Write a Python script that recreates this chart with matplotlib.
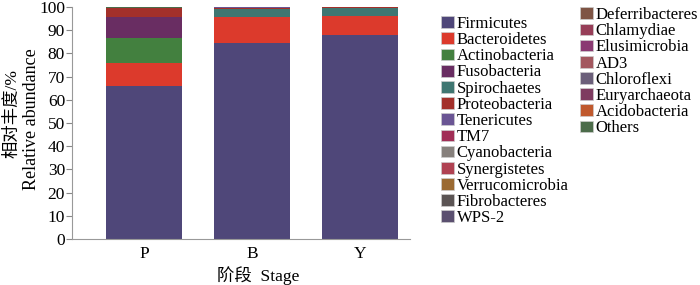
import matplotlib
matplotlib.use("Agg")
import matplotlib.pyplot as plt
import matplotlib.patches as mpatches
import numpy as np

stages = ["P", "B", "Y"]

phyla = ["Firmicutes", "Bacteroidetes", "Actinobacteria", "Fusobacteria",
         "Spirochaetes", "Proteobacteria", "Tenericutes", "TM7",
         "Cyanobacteria", "Synergistetes", "Verrucomicrobia", "Fibrobacteres",
         "WPS-2", "Deferribacteres", "Chlamydiae", "Elusimicrobia", "AD3",
         "Chloroflexi", "Euryarchaeota", "Acidobacteria", "Others"]

# relative abundance (%) per stage P, B, Y
firmicutes      = [66.0, 84.6, 87.8]
bacteroidetes   = [10.0, 11.0, 8.3]
actinobacteria  = [10.8, 0.1, 0.1]
fusobacteria    = [8.9, 0.1, 0.1]
spirochaetes    = [0.1, 3.4, 3.4]
proteobacteria  = [3.8, 0.3, 0.1]
tenericutes     = [0.1, 0.4, 0.1]
tm7             = [0.0, 0.0, 0.0]
cyanobacteria   = [0.0, 0.0, 0.0]
synergistetes   = [0.0, 0.0, 0.0]
verrucomicrobia = [0.0, 0.0, 0.0]
fibrobacteres   = [0.0, 0.0, 0.0]
wps2            = [0.0, 0.0, 0.0]
deferribacteres = [0.0, 0.0, 0.0]
chlamydiae      = [0.0, 0.0, 0.0]
elusimicrobia   = [0.0, 0.0, 0.0]
ad3             = [0.0, 0.0, 0.0]
chloroflexi     = [0.0, 0.0, 0.0]
euryarchaeota   = [0.0, 0.0, 0.0]
acidobacteria   = [0.0, 0.0, 0.0]
others          = [0.3, 0.1, 0.1]

values = [firmicutes, bacteroidetes, actinobacteria, fusobacteria,
          spirochaetes, proteobacteria, tenericutes, tm7, cyanobacteria,
          synergistetes, verrucomicrobia, fibrobacteres, wps2,
          deferribacteres, chlamydiae, elusimicrobia, ad3, chloroflexi,
          euryarchaeota, acidobacteria, others]

colors = ["#4f4779", "#dc3a2c", "#43803f", "#692d62", "#3f7671", "#a3302a",
          "#6a5594", "#a12e56", "#86807c", "#b04252", "#9b6a32", "#5b5454",
          "#5b5070", "#7e5444", "#973e58", "#8a3a72", "#a3585f", "#6b5f7a",
          "#7e3b60", "#c0592d", "#4c6c4a"]

plt.rcParams['font.family'] = ['Liberation Serif', 'Noto Sans CJK SC']

fig = plt.figure(figsize=(7, 2.85), dpi=100)
ax = fig.add_axes([72/700, 1 - 239/285, (410-72)/700, (239-7)/285])

x = np.arange(len(stages))
bottom = np.zeros(len(stages))
for name, vals, c in zip(phyla, values, colors):
    ax.bar(x, vals, width=0.70, bottom=bottom, color=c, linewidth=0)
    bottom += np.array(vals)

ax.set_xlim(-0.667, 2.46)
ax.set_ylim(0, 100)
ax.set_yticks(np.arange(0, 101, 10))
ax.set_xticks(x)
ax.set_xticklabels(stages)
ax.tick_params(axis='y', direction='out', length=4, color='#888888', labelsize=12.5, pad=1)
ax.tick_params(axis='x', length=0, labelsize=12.5, pad=5)
for s in ['top', 'right']:
    ax.spines[s].set_visible(False)
for s in ['left', 'bottom']:
    ax.spines[s].set_color('#999999')

fig.text(12.5/700, 1 - 114/285, "相对丰度/%", rotation=90, ha='center', va='center',
         fontsize=12.5)
fig.text(31.5/700, 1 - 119/285, "Relative abundance", rotation=90, ha='center', va='center',
         fontsize=13)
fig.text(258/700, 1 - 276/285, "阶段  Stage", ha='center', va='center',
         fontsize=12.5)

handles = [mpatches.Patch(facecolor=c, edgecolor='#cccccc', linewidth=0.5) for c in colors]
leg_kw = dict(loc='upper left', frameon=False, fontsize=12, handlelength=0.75,
              handleheight=0.7, handletextpad=0.2, labelspacing=0.01,
              borderpad=0, borderaxespad=0)
leg1 = fig.legend(handles[:13], phyla[:13], bbox_to_anchor=(441/700, 1 - 16/285), **leg_kw)
leg2 = fig.legend(handles[13:], phyla[13:], bbox_to_anchor=(580/700, 1 - 7/285), **leg_kw)

fig.savefig("out.png", dpi=100)
